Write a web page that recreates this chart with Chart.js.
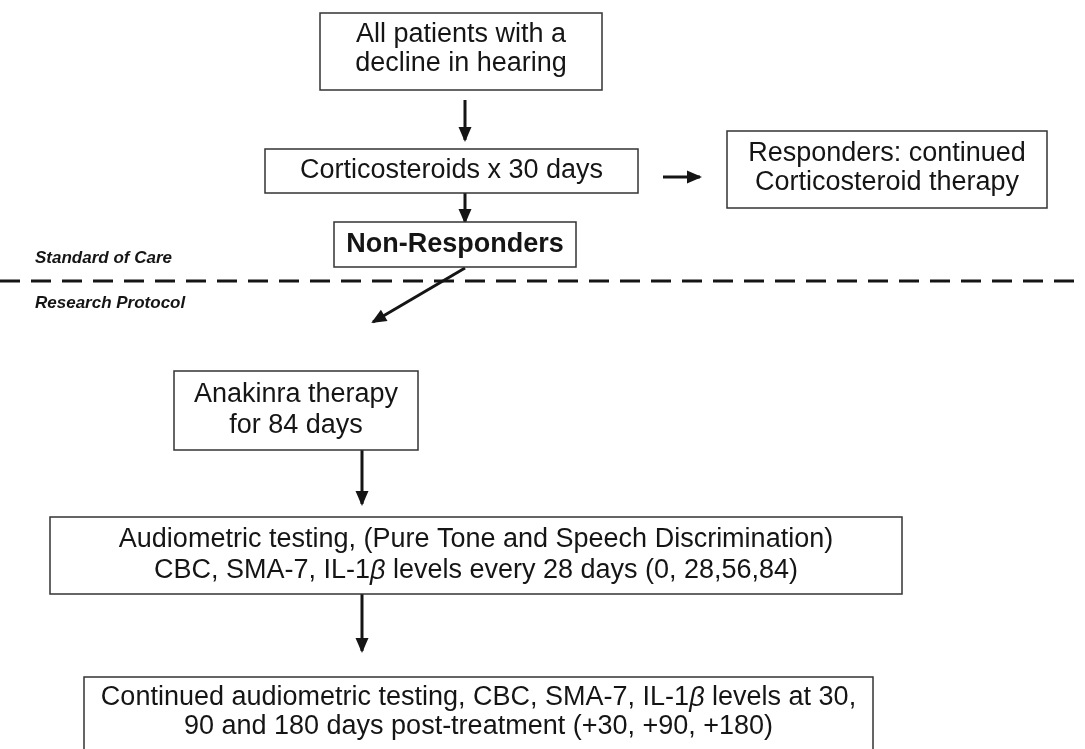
<!DOCTYPE html>
<html>
<head>
<meta charset="utf-8">
<script src="https://cdn.jsdelivr.net/npm/chart.js@4.4.1/dist/chart.umd.min.js"></script>
<style>
  html, body { margin: 0; padding: 0; background: #fff; }
  #flow { display: block; }
</style>
</head>
<body>
<canvas id="flow" width="1085" height="749"></canvas>
<script>
// flowchart steps (text lines), placed in the units of the chart's own scales
const stepLines = [
    ['All patients with a', 'decline in hearing'],
    ['Corticosteroids x 30 days'],
    ['Responders: continued', 'Corticosteroid therapy'],
    ['Non-Responders'],
    ['Anakinra therapy', 'for 84 days'],
    ['Audiometric testing, (Pure Tone and Speech Discrimination)', 'CBC, SMA-7, IL-1β levels every 28 days (0, 28,56,84)'],
    ['Continued audiometric testing, CBC, SMA-7, IL-1β levels at 30,', '90 and 180 days post-treatment (+30, +90, +180)']
];
const stepLeft = [320, 265, 727, 334, 174, 50, 84];
const stepRight = [602, 638, 1047, 576, 418, 902, 873];
const stepTop = [13, 149, 131, 222, 371, 517, 677];
const stepBottom = [90, 193, 208, 267, 450, 594, 770];
const stepTextY = [[35, 64], [171], [154, 183], [245], [395, 426], [540, 571], [698, 727]];
const stepFontSize = [27, 27, 27, 27, 27, 27, 27];
const stepBold = [false, false, false, true, false, false, false];

// connectors: from -> to
const arrowFrom = [[465, 100], [663, 177], [465, 193], [465, 268], [362, 450], [362, 594]];
const arrowTo = [[465, 140], [700, 177], [465, 222], [373, 322], [362, 504], [362, 651]];

// divider between the two phases
const dividerY = 281;
const phaseLabels = ['Standard of Care', 'Research Protocol'];
const phaseY = [258, 303];

document.addEventListener('DOMContentLoaded', function() {
    const ink = '#151515';

    const datasets = arrowFrom.map(function(a, i) {
        return {
            label: 'arrow' + i,
            data: [{ x: a[0], y: a[1] }, { x: arrowTo[i][0], y: arrowTo[i][1] }],
            showLine: true,
            borderColor: ink,
            borderWidth: 3,
            pointRadius: 0
        };
    });
    datasets.push({
        label: 'divider',
        data: [{ x: 0, y: dividerY }, { x: 1085, y: dividerY }],
        showLine: true,
        borderColor: ink,
        borderWidth: 3,
        borderDash: [20, 11],
        pointRadius: 0
    });

    function drawRich(ctx, line, cx, cy, font, italicFont) {
        // β is set in italic, the rest upright
        const parts = line.split(/(β)/).filter(function(p) { return p.length; });
        let total = 0;
        const widths = parts.map(function(p) {
            ctx.font = p === 'β' ? italicFont : font;
            const w = ctx.measureText(p).width;
            total += w;
            return w;
        });
        let x = cx - total / 2;
        parts.forEach(function(p, i) {
            ctx.font = p === 'β' ? italicFont : font;
            ctx.fillText(p, x, cy);
            x += widths[i];
        });
    }

    const flowPlugin = {
        id: 'flowBoxes',
        afterDatasetsDraw: function(chart) {
            const ctx = chart.ctx;
            const xs = chart.scales.x, ys = chart.scales.y;
            ctx.save();

            // arrowheads at the end of each connector
            chart.data.datasets.forEach(function(ds, i) {
                if (ds.label === 'divider') return;
                const pts = chart.getDatasetMeta(i).data;
                const p0 = pts[0], p1 = pts[pts.length - 1];
                const ang = Math.atan2(p1.y - p0.y, p1.x - p0.x);
                const len = 13, half = 6.5;
                ctx.fillStyle = ink;
                ctx.beginPath();
                ctx.moveTo(p1.x + Math.cos(ang) * 2, p1.y + Math.sin(ang) * 2);
                ctx.lineTo(p1.x - Math.cos(ang) * len - Math.sin(ang) * half, p1.y - Math.sin(ang) * len + Math.cos(ang) * half);
                ctx.lineTo(p1.x - Math.cos(ang) * len + Math.sin(ang) * half, p1.y - Math.sin(ang) * len - Math.cos(ang) * half);
                ctx.closePath();
                ctx.fill();
            });

            // boxes and their text
            stepLines.forEach(function(lines, i) {
                const left = xs.getPixelForValue(stepLeft[i]);
                const right = xs.getPixelForValue(stepRight[i]);
                const top = ys.getPixelForValue(stepTop[i]);
                const bottom = ys.getPixelForValue(stepBottom[i]);
                ctx.fillStyle = '#fff';
                ctx.fillRect(left, top, right - left, bottom - top);
                ctx.strokeStyle = '#333';
                ctx.lineWidth = 1.5;
                ctx.strokeRect(left, top, right - left, bottom - top);

                const font = (stepBold[i] ? 'bold ' : '') + stepFontSize[i] + 'px "Liberation Sans", Arial, sans-serif';
                ctx.fillStyle = ink;
                ctx.textAlign = 'left';
                ctx.textBaseline = 'middle';
                const cx = (left + right) / 2;
                lines.forEach(function(line, j) {
                    drawRich(ctx, line, cx, ys.getPixelForValue(stepTextY[i][j]), font, 'italic ' + font);
                });
            });

            // phase labels
            ctx.font = 'italic bold 17px "Liberation Sans", Arial, sans-serif';
            ctx.textAlign = 'left';
            ctx.textBaseline = 'middle';
            ctx.fillStyle = ink;
            phaseLabels.forEach(function(t, i) {
                ctx.fillText(t, xs.getPixelForValue(35), ys.getPixelForValue(phaseY[i]));
            });
            ctx.restore();
        }
    };

    new Chart(document.getElementById('flow').getContext('2d'), {
        type: 'scatter',
        data: { datasets: datasets },
        options: {
            responsive: false,
            animation: false,
            layout: { padding: 0 },
            plugins: {
                legend: { display: false },
                tooltip: { enabled: false }
            },
            scales: {
                x: { type: 'linear', min: 0, max: 1085, display: false },
                y: { type: 'linear', min: 0, max: 749, reverse: true, display: false }
            }
        },
        plugins: [flowPlugin]
    });
});
</script>
</body>
</html>
